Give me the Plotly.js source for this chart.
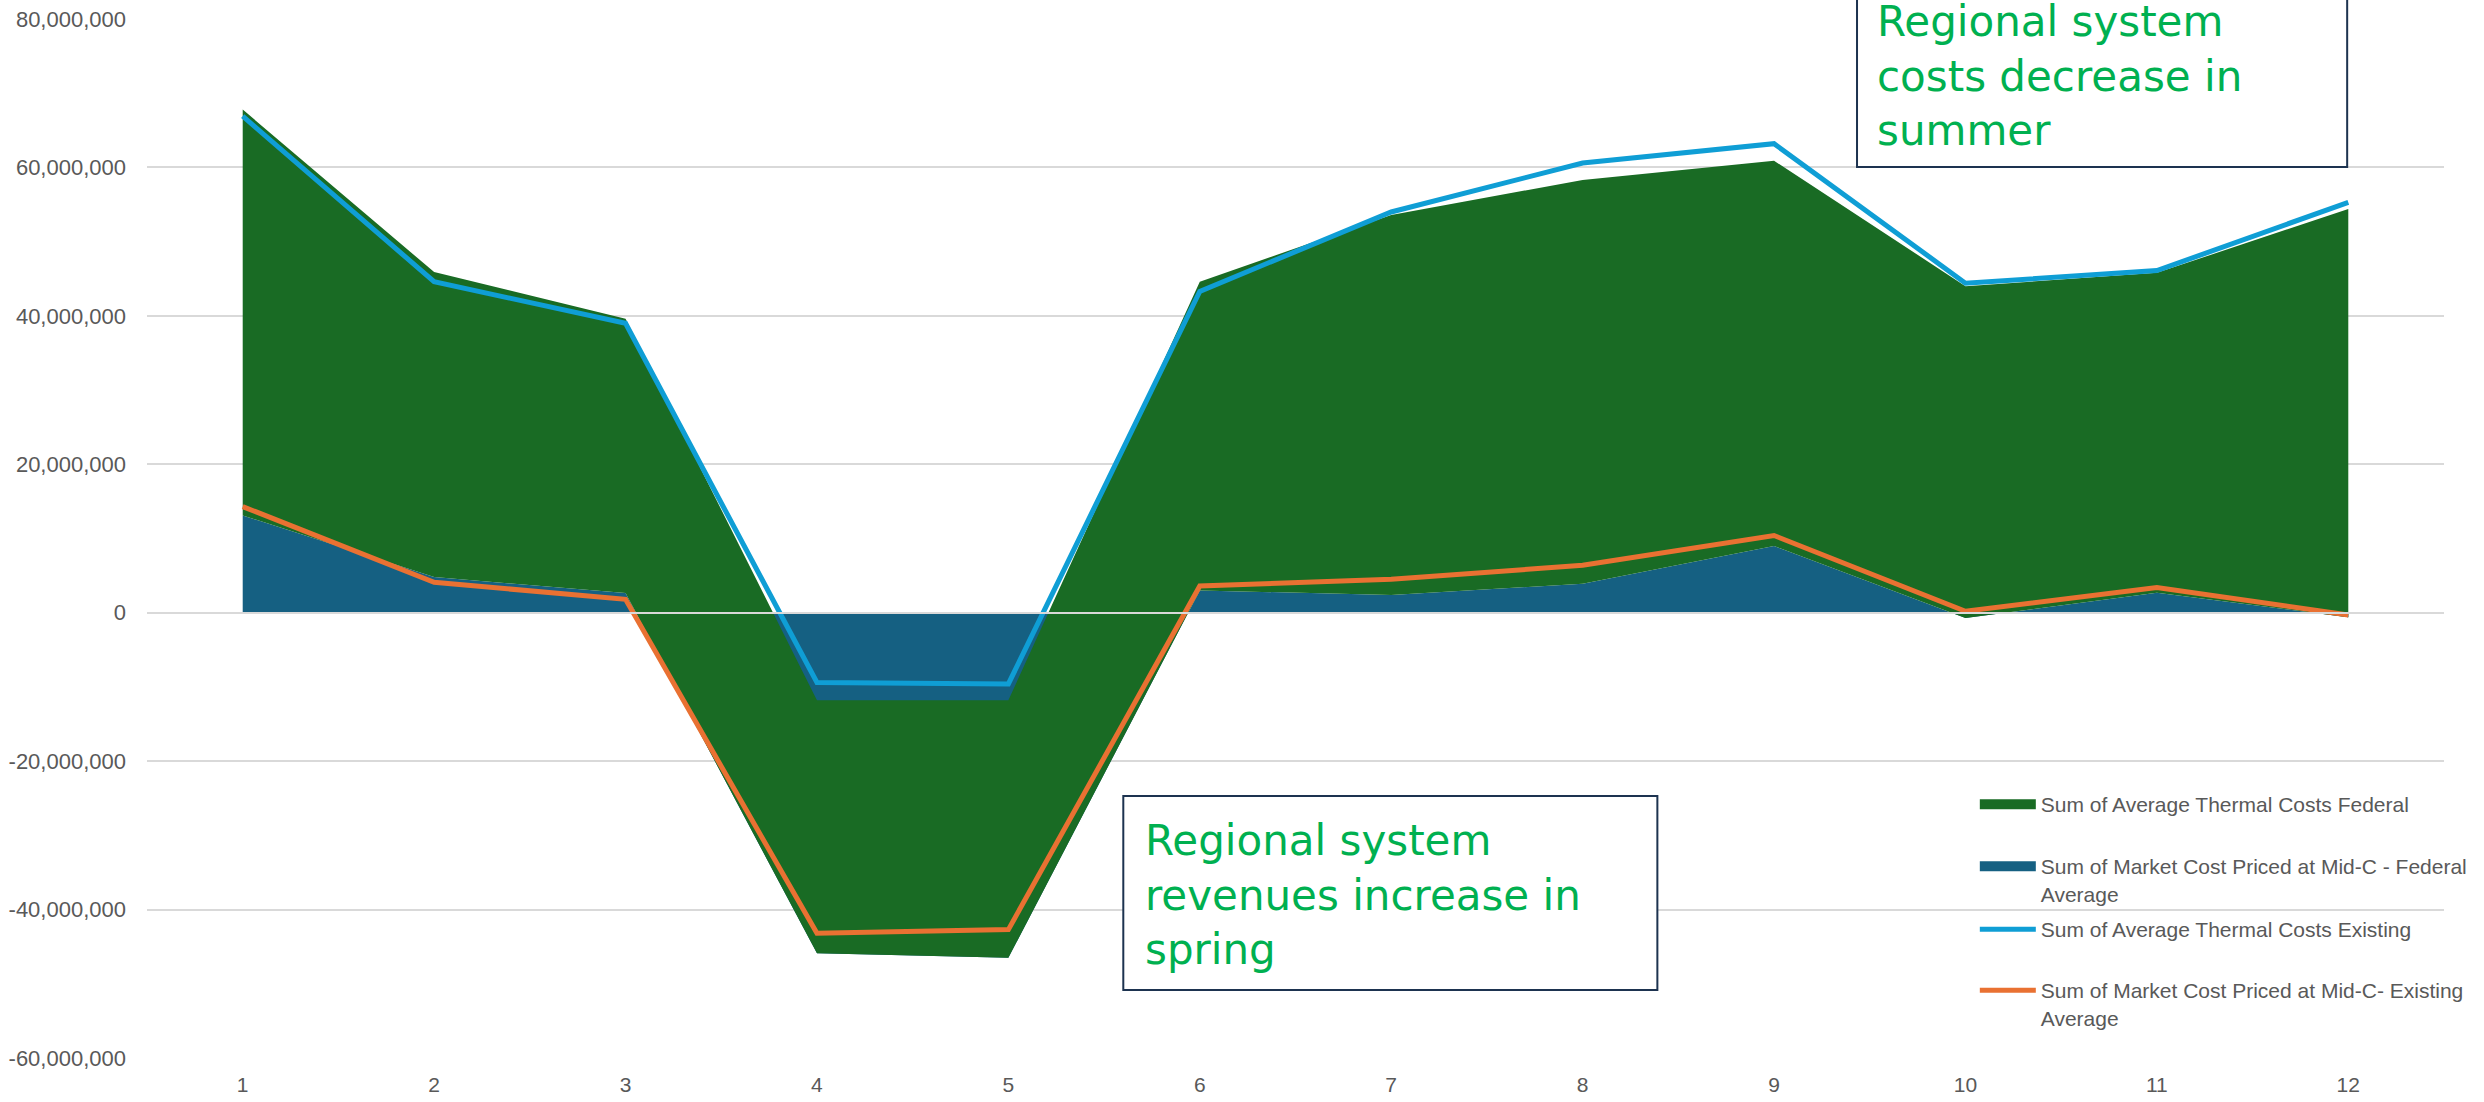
<!DOCTYPE html>
<html>
<head>
<meta charset="utf-8">
<script src="https://cdn.plot.ly/plotly-3.0.1.min.js"></script>
<style>
html, body { margin: 0; padding: 0; background: #ffffff; }
#chart { width: 2484px; height: 1102px; }
</style>
</head>
<body>
<div id="chart"></div>
<script>
// ---- data ----
const months = [1, 2, 3, 4, 5, 6, 7, 8, 9, 10, 11, 12];
const monthLabels = ['1', '2', '3', '4', '5', '6', '7', '8', '9', '10', '11', '12'];

// stacked series (Excel stacked area / stacked line)
const marketFederal   = [13100000, 4800000, 2650000, -45900000, -46500000, 3000000, 2400000, 3900000, 9000000, -700000, 2700000, -600000];
const thermalFederal  = [54700000, 41100000, 36950000, 34100000, 34700000, 41600000, 51200000, 54400000, 51900000, 44700000, 43100000, 55000000];
const marketExisting  = [14300000, 4100000, 1800000, -43200000, -42700000, 3600000, 4500000, 6400000, 10400000, 200000, 3400000, -300000];
const thermalExisting = [52600000, 40500000, 37200000, 33800000, 33100000, 39700000, 49500000, 54200000, 52800000, 44200000, 42700000, 55600000];

const seriesNames = [
  'Sum of Average Thermal Costs Federal',
  'Sum of Market Cost Priced at Mid-C - Federal<br>Average',
  'Sum of Average Thermal Costs Existing',
  'Sum of Market Cost Priced at Mid-C- Existing<br>Average'
];

const yTickVals = [-60000000, -40000000, -20000000, 0, 20000000, 40000000, 60000000, 80000000];
const yTickText = ['-60,000,000', '-40,000,000', '-20,000,000', '0', '20,000,000', '40,000,000', '60,000,000', '80,000,000'];

const noteSpring = 'Regional system<br>revenues increase in<br>spring';
const noteSummer = 'Regional system<br>costs decrease in<br>summer';

// ---- styling ----
const C_GREEN = '#196B24';
const C_BLUE = '#156082';
const C_LIGHTBLUE = '#0F9ED5';
const C_ORANGE = '#E97132';
const TXT = '#595959';
const GRID = '#d9d9d9';

// plot area in pixels: x 147..2448, y 19..1058
const L = 147, R = 2448, T = 19, B = 1058;
const px = v => (v - L) / (R - L);
const py = v => (B - v) / (B - T);

const traces = [
  {
    x: months, y: marketFederal, name: seriesNames[1], type: 'scatter', mode: 'lines',
    stackgroup: 'federal', fill: 'tozeroy', fillcolor: C_BLUE,
    line: { width: 0, color: C_BLUE }, showlegend: false, hoverinfo: 'skip'
  },
  {
    x: months, y: thermalFederal, name: seriesNames[0], type: 'scatter', mode: 'lines',
    stackgroup: 'federal', fill: 'tonexty', fillcolor: C_GREEN,
    line: { width: 0, color: C_GREEN }, showlegend: false, hoverinfo: 'skip'
  },
  {
    x: months, y: marketExisting, name: seriesNames[3], type: 'scatter', mode: 'lines',
    stackgroup: 'existing', fill: 'none',
    line: { width: 5, color: C_ORANGE }, legend: 'legend4', hoverinfo: 'skip'
  },
  {
    x: months, y: thermalExisting, name: seriesNames[2], type: 'scatter', mode: 'lines',
    stackgroup: 'existing', fill: 'none',
    line: { width: 5, color: C_LIGHTBLUE }, legend: 'legend3', hoverinfo: 'skip'
  },
  // legend swatches for the two area series (no data, legend only)
  {
    x: [null], y: [null], name: seriesNames[0], type: 'scatter', mode: 'lines',
    line: { width: 11, color: C_GREEN }, legend: 'legend', hoverinfo: 'skip'
  },
  {
    x: [null], y: [null], name: seriesNames[1], type: 'scatter', mode: 'lines',
    line: { width: 11, color: C_BLUE }, legend: 'legend2', hoverinfo: 'skip'
  }
];

const legendFont = { family: 'Liberation Sans, Arial, sans-serif', size: 21, color: TXT };
function mkLegend(yTopPx) {
  return {
    x: px(1978), y: py(yTopPx), xanchor: 'left', yanchor: 'top',
    bgcolor: 'rgba(0,0,0,0)', borderwidth: 0, font: legendFont,
    itemwidth: 56, valign: 'top', traceorder: 'normal', itemclick: false
  };
}

const noteFont = { family: 'DejaVu Sans, sans-serif', size: 42, color: '#00B050' };

const layout = {
  width: 2484, height: 1102,
  paper_bgcolor: '#ffffff', plot_bgcolor: '#ffffff',
  margin: { l: L, r: 2484 - R, t: T, b: 1102 - B, pad: 0 },
  showlegend: true,
  legend: mkLegend(784),
  legend2: mkLegend(846),
  legend3: mkLegend(909),
  legend4: mkLegend(970),
  xaxis: {
    range: [0.5, 12.5], tickmode: 'array', tickvals: months, ticktext: monthLabels,
    showgrid: false, zeroline: false, showline: false, ticks: '',
    tickfont: { family: 'Liberation Sans, Arial, sans-serif', size: 21, color: TXT },
    ticklabelstandoff: 12, fixedrange: true
  },
  yaxis: {
    range: [-60000000, 80000000], tickmode: 'array', tickvals: yTickVals, ticktext: yTickText,
    showgrid: true, gridcolor: GRID, gridwidth: 2,
    zeroline: true, zerolinecolor: GRID, zerolinewidth: 2, zerolinelayer: 'above traces',
    showline: false, ticks: '',
    tickfont: { family: 'Liberation Sans, Arial, sans-serif', size: 22, color: TXT },
    ticklabelstandoff: 20, fixedrange: true
  },
  shapes: [
    { type: 'rect', xref: 'paper', yref: 'paper', x0: px(1125), x1: px(1660), y0: py(990), y1: py(796),
      line: { color: '#1d3350', width: 2 }, fillcolor: '#ffffff', layer: 'above' },
    { type: 'rect', xref: 'paper', yref: 'paper', x0: px(1860), x1: px(2351), y0: py(167), y1: py(-27),
      line: { color: '#1d3350', width: 2 }, fillcolor: '#ffffff', layer: 'above' }
  ],
  annotations: [
    { xref: 'paper', yref: 'paper', x: px(1145), y: py(895), xanchor: 'left', yanchor: 'middle',
      align: 'left', showarrow: false, text: noteSpring, font: noteFont },
    { xref: 'paper', yref: 'paper', x: px(1878), y: py(76), xanchor: 'left', yanchor: 'middle',
      align: 'left', showarrow: false, text: noteSummer, font: noteFont }
  ]
};

Plotly.newPlot('chart', traces, layout, { staticPlot: true, displayModeBar: false });
</script>
</body>
</html>
